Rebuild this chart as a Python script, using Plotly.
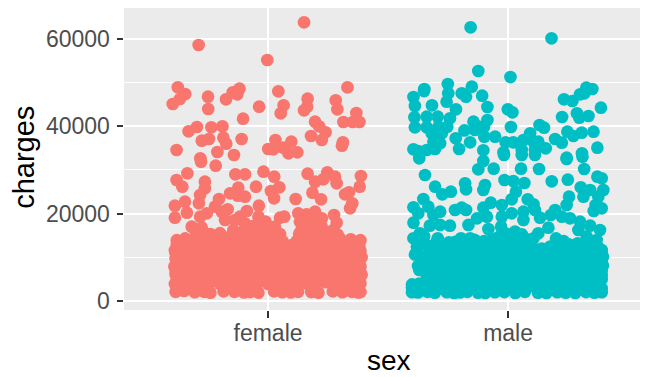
import plotly.graph_objects as go

categories = ["female", "male"]
category_positions = [1, 2]
y_ticks = [0, 20000, 40000, 60000]
y_minor = [10000, 30000, 50000]
x_title = "sex"
y_title = "charges"

female_jitter = [
    1.15, 0.711, 0.997, 0.624, 0.655, 0.633, 0.603, 0.75, 0.751, 0.825,
    0.853, 0.872, 0.881, 0.963, 0.896, 1.043, 1.065, 1.053, 1.165, 1.163,
    1.15, 1.282, 1.289, 1.331, 1.368, 1.314, 1.353, 1.381, 1.196, 1.213,
    1.24, 1.179, 1.224, 1.312, 1.308, 0.669, 0.704, 0.764, 0.81, 0.724,
    0.754, 0.814, 0.826, 0.89, 0.619, 0.718, 0.789, 0.858, 1.031, 1.097,
    1.001, 1.022, 1.064, 1.085, 1.122, 0.721, 0.782, 0.664, 0.619, 0.643,
    0.737, 0.737, 0.717, 0.712, 0.864, 0.904, 0.981, 1.026, 0.95, 0.876,
    0.842, 0.904, 0.874, 0.796, 0.779, 0.832, 0.807, 0.962, 1.047, 1.012,
    1.025, 1.115, 1.165, 1.247, 1.279, 1.286, 1.23, 1.196, 1.185, 1.221,
    1.387, 1.382, 1.337, 1.321, 1.351, 1.342, 0.612, 0.654, 0.662, 0.612,
    0.717, 0.745, 0.912, 0.883, 0.96, 1.05, 1.068, 1.126, 1.161, 1.196,
    1.224, 1.275, 1.286, 1.175, 1.133, 0.682, 0.724, 0.904, 0.862, 0.821,
    0.99, 1.029, 1.224, 1.14, 1.182, 1.272, 0.856, 0.953, 0.925, 1.0,
    0.62, 0.655, 0.70, 0.735, 0.78, 0.82, 0.86, 0.90, 0.94, 0.985,
    1.02, 1.06, 1.12, 1.16, 1.205, 1.25, 1.30, 1.345, 1.385, 1.31,
    0.612, 0.64, 0.68, 0.72, 0.76, 0.80, 0.84, 0.88, 0.92, 0.96,
    1.0, 1.04, 1.08, 1.12, 1.16, 1.20, 1.24, 1.28, 1.32, 1.36, 1.385,
    0.615, 0.65, 0.69, 0.73, 0.77, 0.81, 0.85, 0.89, 0.93, 0.97,
    1.01, 1.05, 1.09, 1.13, 1.17, 1.21, 1.25, 1.29, 1.33, 1.37, 1.39,
    0.61, 0.64, 0.68, 0.72, 0.76, 0.80, 0.84, 0.88, 0.92, 0.96,
    1.0, 1.04, 1.08, 1.12, 1.16, 1.20, 1.24, 1.28, 1.32, 1.36, 1.385,
    0.615, 0.65, 0.69, 0.73, 0.77, 0.81, 0.85, 0.89, 0.93, 0.97,
    1.01, 1.05, 1.09, 1.13, 1.17, 1.21, 1.25, 1.29, 1.33, 1.37, 1.39,
    0.612, 0.64, 0.68, 0.72, 0.76, 0.80, 0.84, 0.88, 0.92, 0.96,
    1.0, 1.04, 1.08, 1.12, 1.16, 1.20, 1.24, 1.28, 1.32, 1.36, 1.385,
    0.615, 0.65, 0.695, 0.735, 0.76, 0.815, 0.86, 0.90, 0.925, 0.96,
    1.025, 1.06, 1.095, 1.125, 1.18, 1.21, 1.27, 1.31, 1.35, 1.375, 1.385,
    0.62, 0.66, 0.70, 0.74, 0.78, 0.82, 0.86, 0.90, 0.94, 0.98,
    1.02, 1.06, 1.10, 1.14, 1.18, 1.22, 1.26, 1.30, 1.34, 1.38,
    0.615, 0.66, 0.70, 0.74, 0.78, 0.82, 0.86, 0.90, 0.94, 0.98,
    1.02, 1.06, 1.10, 1.14, 1.18, 1.22, 1.26, 1.30, 1.34, 1.38,
    0.62, 0.66, 0.70, 0.74, 0.78, 0.82, 0.86, 0.90, 0.94, 0.98,
    1.02, 1.06, 1.10, 1.14, 1.18, 1.22, 1.26, 1.30, 1.34, 1.38,
    0.615, 0.66, 0.70, 0.74, 0.78, 0.82, 0.86, 0.90, 0.94, 0.98,
    1.02, 1.06, 1.10, 1.14, 1.18, 1.22, 1.26, 1.30, 1.34, 1.38,
    0.62, 0.66, 0.70, 0.74, 0.78, 0.82, 0.86, 0.90, 0.94, 0.98,
    1.02, 1.06, 1.10, 1.14, 1.18, 1.22, 1.26, 1.30, 1.34, 1.38,
    0.76, 0.80, 0.85, 0.89, 0.93, 0.97, 1.01, 1.05, 1.13, 1.17,
    1.21, 1.25, 1.29, 0.70, 0.74, 0.94, 0.98, 1.02, 1.16, 1.20,
]
female_charges = [
    63700, 58520, 55090, 48840, 47320, 46180, 45030, 46710, 43890, 46100,
    47700, 47240, 48540, 44420, 41680, 47930, 44730, 42900, 46250, 44420,
    43590, 45870, 43820, 48840, 42980, 40920, 40920, 40920, 41000, 39930,
    38560, 37720, 36800, 36270, 35510, 38790, 39780, 39700, 39930, 36650,
    37030, 37340, 35970, 37030, 34520, 32610, 34060, 33380, 36800, 36430,
    34750, 34670, 35050, 33760, 33990, 31850, 30940, 29180, 27660, 26140,
    27280, 25760, 24230, 22330, 28960, 28960, 29570, 28420, 26140, 25910,
    24610, 23850, 24080, 23320, 21560, 20960, 20420, 21790, 25980, 25150,
    23470, 23320, 29110, 29410, 28420, 26900, 27810, 27280, 24770, 23240,
    28570, 26140, 24840, 24380, 22330, 21180, 21790, 22710, 20190, 19050,
    19280, 20040, 20570, 19280, 19280, 19050, 19280, 20040, 19810, 20420,
    18900, 19660, 17910, 18520, 18140, 16990, 16760, 17750, 18520, 18520,
    18140, 16990, 16990, 16230, 16230, 16230, 16230, 16230, 15700, 16400,
    13900, 14300, 14500, 14200, 13600, 14000, 14400, 14700, 14300, 14600,
    14400, 13700, 13700, 14500, 14400, 14300, 14300, 14100, 13900, 13000,
    11600, 12100, 12400, 11900, 12300, 12000, 12500, 11800, 12200, 12400,
    12000, 12300, 11700, 12200, 12500, 12000, 12400, 11900, 12200, 12100, 11500,
    9800, 10200, 9900, 10300, 9700, 10100, 10400, 9800, 10200, 9900,
    10300, 10000, 9700, 10200, 9900, 10300, 9800, 10100, 10300, 9900, 10000,
    7900, 8200, 7800, 8300, 8000, 7700, 8200, 8400, 7900, 8100,
    7800, 8300, 8000, 7700, 8200, 7900, 8300, 8000, 7800, 8200, 7900,
    6100, 5900, 6300, 5800, 6200, 6000, 5700, 6300, 6000, 5800,
    6200, 5900, 6300, 6100, 5800, 6200, 5900, 6100, 6300, 5800, 6000,
    3900, 4300, 4000, 3700, 4200, 3900, 4300, 4000, 3800, 4200,
    3900, 4100, 3700, 4200, 4000, 3800, 4300, 3900, 4100, 3800, 4000,
    2100, 2300, 2000, 2100, 1900, 2200, 2100, 1950, 2050, 1900,
    2200, 2000, 1950, 2100, 2050, 1900, 2200, 2000, 2100, 1950, 2050,
    12900, 13100, 13000, 12800, 13200, 12900, 13000, 13200, 12800, 13100,
    13000, 12900, 12800, 13100, 13000, 12900, 13200, 13000, 12800, 12700,
    11000, 10900, 11100, 11000, 10800, 11100, 11000, 10900, 11100, 11000,
    10800, 11000, 11100, 10900, 11000, 11100, 10800, 11000, 11100, 10900,
    9000, 9100, 8900, 9000, 9100, 8900, 9000, 9100, 9000, 8900,
    9100, 9000, 8900, 9100, 9000, 8900, 9100, 9000, 8900, 9000,
    7000, 6900, 7100, 7000, 6900, 7100, 7000, 6900, 7100, 7000,
    6900, 7100, 7000, 6900, 7100, 7000, 6900, 7100, 7000, 6900,
    5000, 5100, 4900, 5000, 5100, 4900, 5000, 5100, 4900, 5000,
    5100, 4900, 5000, 5100, 4900, 5000, 5100, 4900, 5000, 5100,
    15300, 15500, 15200, 15700, 15400, 15800, 15500, 15300, 15400, 15600,
    15300, 15500, 15200, 15600, 15400, 17200, 17500, 16000, 17600, 17800,
]

male_jitter = [
    1.844, 2.181, 1.876, 2.01, 1.651, 1.65, 1.606, 1.612, 1.683, 1.61,
    1.612, 1.661, 1.707, 1.661, 1.682, 1.71, 1.696, 1.724, 1.747, 1.758,
    1.783, 1.749, 1.751, 1.744, 1.807, 1.825, 1.849, 1.892, 1.914, 1.914,
    1.856, 1.818, 1.878, 1.90, 1.862, 1.901, 1.946, 1.782, 1.842, 1.796,
    1.897, 1.606, 1.626, 1.661, 1.696, 1.717, 1.689, 1.981, 1.99, 2.022,
    2.057, 1.999, 2.018, 2.012, 2.064, 2.092, 2.131, 2.15, 2.106, 2.126,
    2.112, 2.157, 2.196, 2.224, 2.225, 2.233, 2.268, 2.30, 2.326, 2.351,
    2.318, 2.387, 2.287, 2.297, 2.335, 2.356, 2.307, 2.272, 2.247, 2.372,
    2.308, 2.244, 1.63, 1.897, 1.983, 2.057, 2.112, 2.244, 2.31, 1.876,
    1.94, 2.054, 2.129, 2.317, 1.654, 2.372, 2.39, 2.249, 2.182, 1.985,
    2.022, 2.068, 1.821, 1.825, 1.904, 1.897, 1.696, 1.726, 1.762, 1.647,
    2.303, 2.342, 2.314, 2.397, 2.376, 2.254, 2.033, 2.015, 2.082, 2.106,
    1.974, 1.928, 1.897, 1.606, 1.668, 1.717, 1.626, 1.807, 1.779, 1.825,
    1.689, 2.365, 2.39, 2.357, 2.244, 2.196, 2.224, 2.178, 2.133, 2.112,
    2.064, 2.064, 2.015, 1.974, 1.912, 1.871, 1.606, 1.674, 1.717, 1.758,
    1.835, 2.258, 2.30, 2.293, 2.342, 2.383, 2.168, 2.126, 2.106, 1.918,
    1.971, 2.029, 1.99, 2.057, 1.606, 1.633, 1.65, 1.707, 1.804, 1.842,
    1.754, 1.932, 2.231, 2.328, 2.369, 2.175, 2.39, 1.97, 2.02, 2.07,
    1.62, 1.66, 1.70, 1.74, 1.78, 1.82, 1.86, 1.90, 1.94, 1.98,
    2.02, 2.06, 2.10, 2.14, 2.18, 2.22, 2.26, 2.30, 2.34, 2.38,
    1.612, 1.65, 1.69, 1.73, 1.77, 1.81, 1.85, 1.89, 1.93, 1.97,
    2.01, 2.05, 2.09, 2.13, 2.17, 2.21, 2.25, 2.29, 2.33, 2.37, 2.395,
    1.625, 1.66, 1.70, 1.74, 1.78, 1.82, 1.86, 1.90, 1.94, 1.98,
    2.02, 2.06, 2.10, 2.14, 2.18, 2.22, 2.26, 2.30, 2.34, 2.38, 2.395,
    1.66, 1.69, 1.73, 1.77, 1.81, 1.85, 1.89, 1.93, 1.97, 2.01,
    2.05, 2.09, 2.13, 2.17, 2.21, 2.25, 2.29, 2.33, 2.37, 2.39,
    1.60, 1.63, 1.66, 1.70, 1.74, 1.78, 1.82, 1.86, 1.90, 1.94, 1.98,
    2.02, 2.06, 2.10, 2.14, 2.18, 2.22, 2.26, 2.30, 2.34, 2.38,
    1.60, 1.625, 1.665, 1.695, 1.745, 1.775, 1.80, 1.83, 1.875, 1.905, 1.945, 1.985,
    2.03, 2.07, 2.125, 2.16, 2.205, 2.24, 2.28, 2.325, 2.36, 2.39,
    1.62, 1.68, 1.72, 1.76, 1.80, 1.84, 1.88, 1.92, 1.96, 2.00,
    2.04, 2.08, 2.12, 2.16, 2.20, 2.24, 2.28, 2.32, 2.36, 2.39,
    1.64, 1.68, 1.72, 1.76, 1.80, 1.84, 1.88, 1.92, 1.96, 2.00,
    2.04, 2.08, 2.12, 2.16, 2.20, 2.24, 2.28, 2.32, 2.36, 2.39,
    1.63, 1.68, 1.72, 1.76, 1.80, 1.84, 1.88, 1.92, 1.96, 2.00,
    2.04, 2.08, 2.12, 2.16, 2.20, 2.24, 2.28, 2.32, 2.36, 2.39,
    1.67, 1.71, 1.75, 1.79, 1.83, 1.87, 1.91, 1.95, 1.99, 2.03,
    2.07, 2.11, 2.15, 2.19, 2.23, 2.27, 2.31, 2.35, 2.39,
    1.60, 1.64, 1.68, 1.72, 1.76, 1.80, 1.84, 1.88, 1.92, 1.96,
    2.00, 2.04, 2.08, 2.12, 2.16, 2.20, 2.24, 2.28, 2.32, 2.36, 2.39,
    1.64, 1.70, 1.78, 1.86, 1.90, 1.95, 2.00, 2.04, 2.09, 2.20,
    2.25, 2.29, 2.34, 2.37,
]
male_charges = [
    62560, 60050, 52580, 51200, 48460, 48000, 46630, 44580, 44730, 41990,
    39700, 42140, 42140, 39700, 38330, 39850, 38330, 38330, 39850, 41760,
    43820, 49600, 47470, 45570, 47470, 46710, 49000, 46940, 44350, 41380,
    41000, 39000, 39850, 39850, 39090, 37570, 37570, 37190, 36270, 34750,
    34440, 34670, 34290, 34520, 34750, 36040, 36420, 33990, 36270, 36270,
    34520, 43820, 43130, 39780, 36800, 38330, 40230, 39620, 36420, 36420,
    34520, 34900, 37030, 36200, 42060, 46100, 45720, 47240, 48770, 48460,
    47470, 44200, 42900, 41910, 42290, 38710, 38480, 37720, 38710, 35050,
    33760, 32760, 32610, 32000, 33376, 33376, 33376, 32460, 33000, 30100,
    30250, 30250, 30180, 30180, 28800, 28420, 28040, 27740, 27360, 27660,
    27430, 26980, 26900, 25530, 26520, 25380, 26140, 24380, 24990, 23320,
    25980, 25380, 23850, 25380, 23850, 23850, 24990, 23240, 23240, 22100,
    21950, 22480, 21340, 21410, 21560, 20420, 20040, 21340, 20800, 20800,
    19660, 21950, 21180, 20570, 21950, 20800, 19280, 19660, 19050, 20800,
    20420, 18520, 20040, 19280, 19280, 18900, 17910, 17220, 17380, 17220,
    17380, 18900, 18140, 16230, 17220, 16230, 16770, 15470, 14330, 16460,
    17000, 15850, 15470, 15240, 14330, 15470, 14800, 14330, 14330, 14330,
    13410, 13940, 13720, 14710, 13940, 12420, 11660, 15000, 14600, 14300,
    12400, 12800, 12000, 12500, 12900, 12300, 12700, 12900, 13100, 13300,
    13500, 13000, 12400, 12000, 12300, 12600, 12800, 12300, 12500, 12000,
    10600, 10100, 10400, 9900, 10300, 10000, 10500, 10200, 9900, 10400,
    10100, 10500, 9800, 10300, 10000, 10400, 9900, 10300, 10000, 10500, 10100,
    8000, 8300, 7900, 8400, 8000, 8300, 7800, 8200, 8400, 7900,
    8300, 8000, 7800, 8300, 8000, 7800, 8200, 8000, 8300, 7900, 8100,
    6100, 5800, 6200, 5900, 6300, 6000, 5800, 6200, 5900, 6100,
    5800, 6200, 6000, 6300, 5900, 6100, 5800, 6200, 6000, 5900,
    3800, 4000, 4200, 3900, 4300, 4000, 3800, 4200, 3900, 4300, 4000,
    3800, 4200, 3900, 4300, 4000, 3800, 4200, 3900, 4100, 3800,
    2000, 1950, 2100, 1900, 2000, 1850, 1950, 2100, 1900, 1850, 2000, 2050,
    1850, 2100, 1900, 1850, 2000, 1900, 1850, 2050, 1900, 2000,
    11200, 11400, 11100, 11300, 11000, 11400, 11200, 11100, 11400, 11300,
    11100, 11300, 11200, 11000, 11300, 11200, 11400, 11100, 11300, 10900,
    9200, 9000, 9300, 9100, 8900, 9200, 9000, 9300, 9100, 9200,
    8900, 9100, 9300, 9000, 9200, 9100, 8900, 9200, 9000, 9300,
    7100, 7000, 6900, 7200, 7000, 7100, 6900, 7200, 7000, 6900,
    7100, 7200, 7000, 6900, 7100, 7000, 7200, 6900, 7100, 7000,
    5000, 4900, 5100, 5000, 4900, 5100, 5000, 4900, 5100, 5000,
    4900, 5100, 5000, 4900, 5100, 5000, 4900, 5100, 5000,
    3100, 3000, 2900, 3100, 3000, 2900, 3100, 3000, 2900, 3100,
    3000, 2900, 3100, 3000, 2900, 3100, 3000, 2900, 3100, 3000, 2900,
    13200, 13300, 13500, 14000, 13700, 14300, 14800, 14500, 14000, 14300,
    13000, 13200, 12900, 12700,
]

FEMALE_COLOR = "#F8766D"
MALE_COLOR = "#00BFC4"
FONT = "Liberation Sans"

fig = go.Figure()
for jit, chg, col, name in [
    (female_jitter, female_charges, FEMALE_COLOR, categories[0]),
    (male_jitter, male_charges, MALE_COLOR, categories[1]),
]:
    fig.add_trace(go.Scatter(
        x=jit, y=chg, mode="markers", name=name, showlegend=False,
        marker=dict(color=col, size=12.7, line=dict(width=0)),
    ))

# The page body adds 8 px on the left and top; the bottom has spare room for the title box.
fig.update_layout(
    width=640, height=377,
    autosize=False,
    margin=dict(l=116, r=0, t=0, b=75, pad=0),
    paper_bgcolor="white",
    plot_bgcolor="#EBEBEB",
    font=dict(family=FONT, color="#4D4D4D", size=23),
    xaxis=dict(
        range=[0.4, 2.583], automargin=False,
        tickmode="array", tickvals=category_positions, ticktext=categories,
        showgrid=True, gridcolor="white", gridwidth=2.2, zeroline=False,
        ticks="outside", ticklen=6.5, tickwidth=2.1, tickcolor="#333333",
        ticklabelstandoff=-4,
        tickfont=dict(size=23, family=FONT, color="#4D4D4D"),
    ),
    yaxis=dict(
        range=[-2057, 66980], automargin=False,
        tickmode="array", tickvals=y_ticks,
        showgrid=True, gridcolor="white", gridwidth=2.2, zeroline=False,
        minor=dict(tickmode="array", tickvals=y_minor, showgrid=True, gridcolor="white", gridwidth=1.1, ticks=""),
        ticks="outside", ticklen=6.5, tickwidth=2.1, tickcolor="#333333",
        tickformat="d", ticklabelstandoff=2,
        tickfont=dict(size=23, family=FONT, color="#4D4D4D"),
    ),
    annotations=[
        dict(text=x_title, xref="paper", yref="paper", x=0.505, y=-0.166, yanchor="middle",
             xanchor="center", showarrow=False, font=dict(size=28, family=FONT, color="black")),
        dict(text=y_title, xref="paper", yref="paper", x=-0.191, y=0.507, textangle=-90,
             xanchor="center", yanchor="middle", showarrow=False,
             font=dict(size=29, family=FONT, color="black")),
    ],
)

fig.write_html("out.html", config={"displayModeBar": False})
